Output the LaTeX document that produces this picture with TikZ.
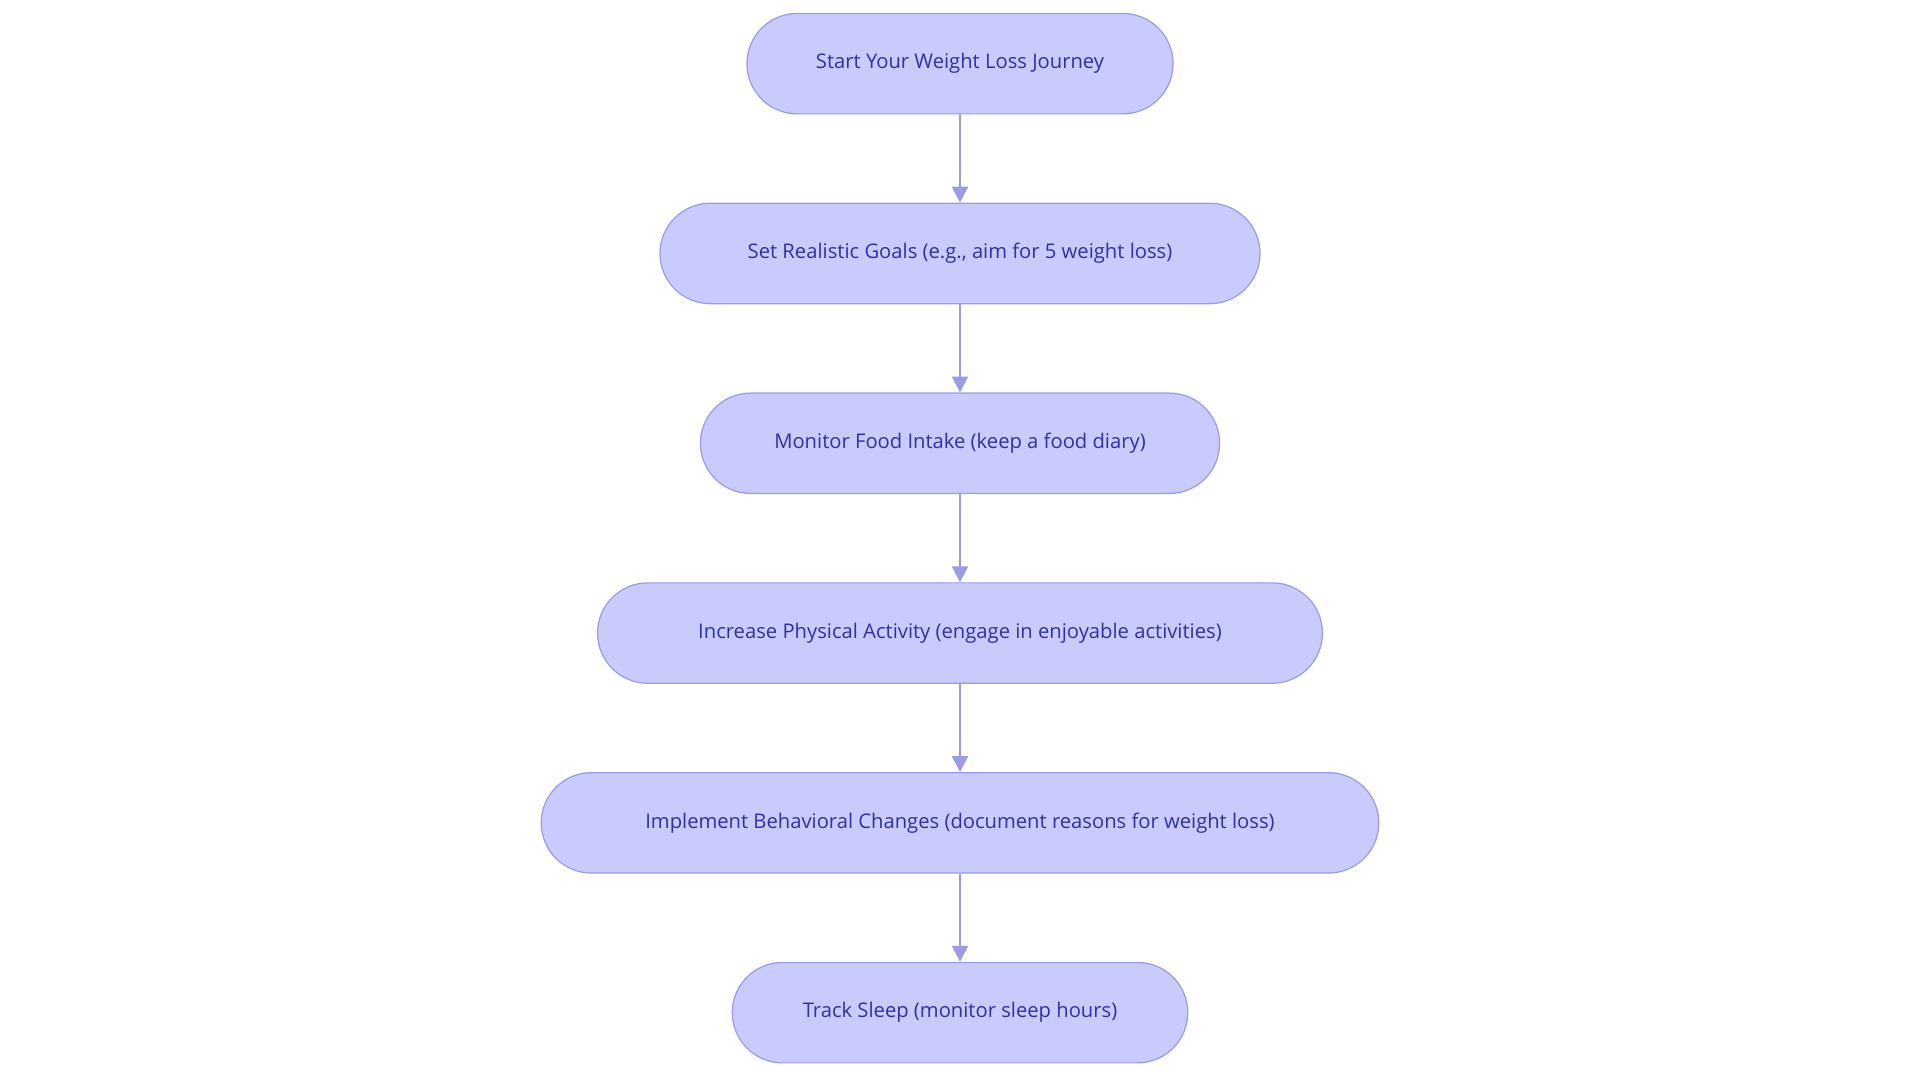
\documentclass[tikz,border=0pt]{standalone}
\usepackage{fontspec}
\setmainfont{Open Sans}
\usetikzlibrary{positioning,arrows.meta}
\definecolor{stepfill}{HTML}{C8CBFC}
\definecolor{stepline}{HTML}{9A9CE8}
\definecolor{steptext}{HTML}{3030A8}
\definecolor{arrowcol}{HTML}{9A9DE6}
\tikzset{
  stage/.style={draw=stepline, fill=stepfill, text=steptext, line width=1pt,
    rounded corners=41pt, minimum height=82pt, font=\fontsize{16.5}{20}\selectfont},
  flow/.style={draw=arrowcol, line width=2pt, -{Triangle[length=13pt,width=13pt]}}
}
\begin{document}
\begin{tikzpicture}[x=1pt,y=-1pt]

\useasboundingbox (0,0) rectangle (1568,884);

\node[stage, minimum width=348pt] (start) at (784,52) {Start Your Weight Loss Journey};
\node[stage, minimum width=490pt] (goals) at (784,207) {Set Realistic Goals (e.g., aim for 5 weight loss)};
\node[stage, minimum width=424pt] (food) at (784,362) {Monitor Food Intake (keep a food diary)};
\node[stage, minimum width=592pt] (activity) at (784,517) {Increase Physical Activity (engage in enjoyable activities)};
\node[stage, minimum width=684pt] (behavior) at (784,672) {Implement Behavioral Changes (document reasons for weight loss)};
\node[stage, minimum width=372pt] (sleep) at (784,827) {Track Sleep (monitor sleep hours)};

%% connectors
\draw[flow] (start) -- (goals);
\draw[flow] (goals) -- (food);
\draw[flow] (food) -- (activity);
\draw[flow] (activity) -- (behavior);
\draw[flow] (behavior) -- (sleep);

\end{tikzpicture}
\end{document}
